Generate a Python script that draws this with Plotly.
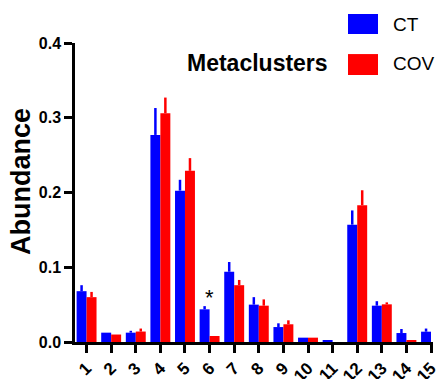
import plotly.graph_objects as go

categories = [str(i) for i in range(1, 16)]
ct_vals = [0.068, 0.0125, 0.0125, 0.277, 0.2025, 0.0437, 0.094, 0.050, 0.020, 0.0058, 0.0027, 0.157, 0.0486, 0.012, 0.0138]
ct_err = [0.008, 0.0, 0.0025, 0.036, 0.0145, 0.0043, 0.013, 0.010, 0.005, 0.0, 0.0, 0.019, 0.006, 0.0054, 0.0042]
cov_vals = [0.060, 0.010, 0.014, 0.306, 0.229, 0.008, 0.076, 0.0486, 0.0237, 0.0058, 0.0, 0.183, 0.0504, 0.0027, 0.0]
cov_err = [0.007, 0.0, 0.004, 0.021, 0.017, 0.0, 0.007, 0.0084, 0.0053, 0.0, 0.0, 0.020, 0.0026, 0.0, 0.0]
yticks = [0.0, 0.1, 0.2, 0.3, 0.4]
ytick_labels = ["0.0", "0.1", "0.2", "0.3", "0.4"]
sig_index = 5
sig_value = 0.059

BLUE = "#0000FF"
RED = "#FF0000"
FONT = "Liberation Sans"

xs = list(range(len(categories)))

fig = go.Figure()
fig.add_trace(go.Bar(
    x=xs, y=ct_vals, name="CT", marker=dict(color=BLUE, line=dict(width=0)),
    error_y=dict(type="data", symmetric=False, array=ct_err, arrayminus=[0]*len(ct_err),
                 color=BLUE, thickness=2.5, width=0),
    showlegend=False,
))
fig.add_trace(go.Bar(
    x=xs, y=cov_vals, name="COV", marker=dict(color=RED, line=dict(width=0)),
    error_y=dict(type="data", symmetric=False, array=cov_err, arrayminus=[0]*len(cov_err),
                 color=RED, thickness=2.5, width=0),
    showlegend=False,
))

fig.update_layout(
    template="none",
    width=441, height=379,
    margin=dict(l=75, r=8, t=43, b=37),
    paper_bgcolor="white", plot_bgcolor="white",
    barmode="group", bargap=0.19, bargroupgap=0,
    font=dict(family=FONT, color="black"),
)
fig.update_xaxes(
    range=[-0.47, 14.08], tickmode="array", tickvals=xs, ticktext=categories,
    tickangle=-45, showline=True, linecolor="black", linewidth=2.5,
    ticks="outside", ticklen=8, tickwidth=2.5, tickcolor="black",
    showgrid=False, zeroline=False, automargin=False, ticklabelstandoff=-1,
    tickfont=dict(family=FONT, size=17, color="black", weight="bold"),
)
fig.update_yaxes(
    range=[0, 0.4], tickmode="array", tickvals=yticks, ticktext=ytick_labels,
    showline=True, linecolor="black", linewidth=2.5,
    ticks="outside", ticklen=8, tickwidth=2.5, tickcolor="black",
    showgrid=False, zeroline=False, automargin=False,
    tickfont=dict(family=FONT, size=16, color="black", weight="bold"),
)

# y-axis title
fig.add_annotation(
    text="Abundance", textangle=-90, xref="paper", yref="paper",
    x=-0.151, y=0.538, xanchor="center", yanchor="middle", showarrow=False,
    font=dict(family=FONT, size=27, color="black", weight="bold"),
)
# significance mark
fig.add_annotation(
    text="*", x=sig_index, y=sig_value, xref="x", yref="y", showarrow=False,
    xanchor="center", yanchor="middle",
    font=dict(family=FONT, size=22, color="black"),
)
# legend title
fig.add_annotation(
    text="Metaclusters", xref="paper", yref="paper", x=0.511, y=0.933,
    xanchor="center", yanchor="middle", showarrow=False,
    font=dict(family=FONT, size=23, color="black", weight="bold"),
)
# custom legend
legend_items = [("CT", BLUE, 1.097, 1.030, 1.0635), ("COV", RED, 0.963, 0.893, 0.9298)]
for name, col, y0, y1, yt in legend_items:
    fig.add_shape(type="rect", xref="paper", yref="paper", x0=0.7626, x1=0.8464,
                  y0=y1, y1=y0, fillcolor=col, line=dict(width=0))
    fig.add_annotation(text=name, xref="paper", yref="paper", x=0.8827, y=yt,
                       xanchor="left", yanchor="middle", showarrow=False,
                       font=dict(family=FONT, size=19, color="black"))

fig.write_html("out.html")
